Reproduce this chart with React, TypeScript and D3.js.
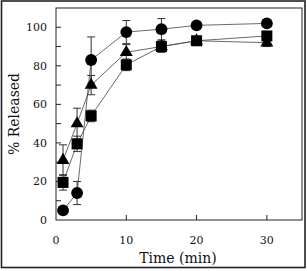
import React from "react";
import * as d3 from "d3";

// release profiles, sampled at the same time points
const times = [1, 3, 5, 10, 15, 20, 30];
const circleVals = [5, 14, 83, 97.5, 99, 101, 102];
const circleErr = [1, 6, 12, 6, 5.5, 1, 1];
const triangleVals = [31, 50, 70, 87, 90, 93, 92];
const triangleErr = [8, 8, 5, 4, 2, 2, 2];
const squareVals = [19.5, 39.5, 54, 80.5, 90, 93, 95.5];
const squareErr = [4, 4, 3, 3, 3, 2, 2];

const xTicks = [0, 10, 20, 30];
const yTicks = [0, 20, 40, 60, 80, 100];
const yMinor = [10, 30, 50, 70, 90];

const W = 307;
const H = 271;
const margin = { left: 56, right: 5, top: 8, bottom: 51 };
const font = "DejaVu Serif";

type Shape = "circle" | "triangle" | "square";

const series: { shape: Shape; vals: number[]; err: number[] }[] = [
  { shape: "square", vals: squareVals, err: squareErr },
  { shape: "triangle", vals: triangleVals, err: triangleErr },
  { shape: "circle", vals: circleVals, err: circleErr },
];

const App = () => {
  const x = d3.scaleLinear().domain([0, 35]).range([margin.left, W - margin.right]);
  const y = d3.scaleLinear().domain([0, 110]).range([H - margin.bottom, margin.top]);

  const line = d3
    .line<number>()
    .x((_, i) => x(times[i]))
    .y((d) => y(d));

  const symbols: Record<Shape, string> = {
    circle: d3.symbol(d3.symbolCircle, 110)()!,
    triangle: d3.symbol(d3.symbolTriangle, 72)()!,
    square: d3.symbol(d3.symbolSquare, 121)()!,
  };

  const x0 = x(0);
  const y0 = y(0);

  return (
    <div style={{ position: "absolute", left: 0, top: 0 }}>
      <svg width={W} height={H} style={{ display: "block", background: "#fff" }}>
        <rect x={1.5} y={1} width={303.5} height={266.5} fill="none" stroke="#222" strokeWidth={1.6} />
        <rect
          x={x0}
          y={margin.top}
          width={W - margin.right - x0}
          height={y0 - margin.top}
          fill="none"
          stroke="#222"
          strokeWidth={1}
        />

        {/* inward ticks */}
        {xTicks.slice(1).map((t) => (
          <line key={"xt" + t} x1={x(t)} x2={x(t)} y1={y0} y2={y0 - 5} stroke="#222" />
        ))}
        {[...yTicks.slice(1), ...yMinor].map((t) => (
          <line key={"yt" + t} x1={x0} x2={x0 + 5} y1={y(t)} y2={y(t)} stroke="#222" />
        ))}

        {xTicks.map((t) => (
          <text
            key={"xl" + t}
            x={x(t)}
            y={y0 + 24}
            textAnchor="middle"
            fontFamily={font}
            fontSize={11}
            fill="#111"
          >
            {t}
          </text>
        ))}
        {yTicks.map((t) => (
          <text
            key={"yl" + t}
            x={x0 - 9}
            y={y(t) + 4}
            textAnchor="end"
            fontFamily={font}
            fontSize={11}
            fill="#111"
          >
            {t}
          </text>
        ))}

        <text x={178} y={263} textAnchor="middle" fontFamily={font} fontSize={14} fill="#111">
          Time (min)
        </text>
        <text
          transform={`translate(19,${y(55)}) rotate(-90)`}
          textAnchor="middle"
          fontFamily={font}
          fontSize={14}
          fill="#111"
        >
          % Released
        </text>

        {series.map((s) => (
          <path key={"ln" + s.shape} d={line(s.vals)!} fill="none" stroke="#444" strokeWidth={0.8} />
        ))}

        {series.map((s) =>
          s.vals.map((v, i) => (
            <g key={s.shape + "e" + i} stroke="#333" strokeWidth={1}>
              <line x1={x(times[i])} x2={x(times[i])} y1={y(v - s.err[i])} y2={y(v + s.err[i])} />
              <line x1={x(times[i]) - 4} x2={x(times[i]) + 4} y1={y(v + s.err[i])} y2={y(v + s.err[i])} />
              <line x1={x(times[i]) - 4} x2={x(times[i]) + 4} y1={y(v - s.err[i])} y2={y(v - s.err[i])} />
            </g>
          ))
        )}

        {series.map((s) =>
          s.vals.map((v, i) => (
            <path
              key={s.shape + "m" + i}
              d={symbols[s.shape]}
              transform={`translate(${x(times[i])},${y(v)})`}
              fill="#000"
            />
          ))
        )}
      </svg>
    </div>
  );
};

export default App;
